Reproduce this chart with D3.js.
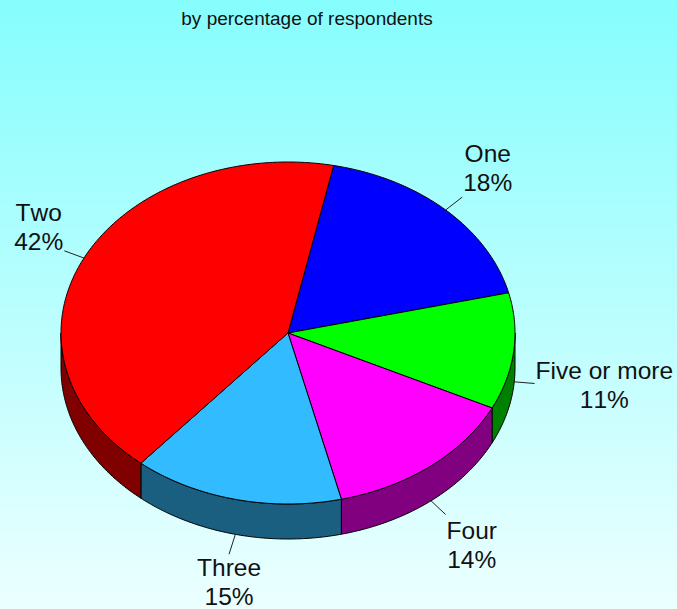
<!DOCTYPE html>
<html><head><meta charset="utf-8">
<script src="https://cdn.jsdelivr.net/npm/d3@7"></script>
<style>html,body{margin:0;padding:0;overflow:hidden;} text{font-kerning:none;}</style>
</head><body>
<script>
const categories = ["One", "Five or more", "Four", "Three", "Two"];
const values = [18, 11, 14, 15, 42];
const labels = ["18%", "11%", "14%", "15%", "42%"];
const topColors = ["#0000ff", "#00ff00", "#ff00ff", "#33bbff", "#ff0000"];
const sideColors = ["#000080", "#008000", "#800080", "#1a5e80", "#800000"];
const title = "by percentage of respondents";

const W = 677, H = 609;
const cx = 288, cy = 333, rx = 227, ry = 171, depth = 35;
const start = 11.6 * Math.PI / 180;
const font = "'Liberation Sans', Arial, sans-serif";

const svg = d3.select("body").append("svg").attr("width", W).attr("height", H);
const defs = svg.append("defs");
const grad = defs.append("linearGradient").attr("id", "bg").attr("x1", 0).attr("y1", 0).attr("x2", 0).attr("y2", 1);
grad.append("stop").attr("offset", "0%").attr("stop-color", "#86fdfd");
grad.append("stop").attr("offset", "100%").attr("stop-color", "#ecffff");
svg.append("rect").attr("width", W).attr("height", H).attr("fill", "url(#bg)");

svg.append("text").attr("x", 307).attr("y", 25).attr("text-anchor", "middle")
  .attr("font-family", font).attr("font-size", 19).attr("fill", "#111").text(title);

const pie = d3.pie().sort(null).startAngle(start).endAngle(start + 2 * Math.PI);
const arcs = pie(values);

const px = a => cx + rx * Math.sin(a);
const py = (a, dy = 0) => cy - ry * Math.cos(a) + dy;
function arcPts(a0, a1, dy) {
  const n = Math.max(2, Math.ceil(Math.abs(a1 - a0) / 0.01));
  const pts = [];
  for (let i = 0; i <= n; i++) { const a = a0 + (a1 - a0) * i / n; pts.push([px(a), py(a, dy)]); }
  return pts;
}
const line = d3.line();

// side walls (visible lower half)
const gSide = svg.append("g");
arcs.forEach((d, i) => {
  [0, 2 * Math.PI].forEach(off => {
    const lo = Math.max(d.startAngle, Math.PI / 2 + off);
    const hi = Math.min(d.endAngle, 3 * Math.PI / 2 + off);
    if (hi > lo) {
      const top = arcPts(lo, hi, 0);
      const bot = arcPts(hi, lo, depth);
      gSide.append("path").attr("d", line(top.concat(bot)) + "Z")
        .attr("fill", sideColors[i]).attr("stroke", "#000").attr("stroke-width", 1).attr("stroke-linejoin", "round");
    }
  });
});

// top faces
const gTop = svg.append("g");
arcs.forEach((d, i) => {
  const pts = [[cx, cy]].concat(arcPts(d.startAngle, d.endAngle, 0));
  gTop.append("path").attr("d", line(pts) + "Z")
    .attr("fill", topColors[i]).attr("stroke", "#000").attr("stroke-width", 1).attr("stroke-linejoin", "round");
});

// leaders + labels
const gLab = svg.append("g");
arcs.forEach((d, i) => {
  const m = (d.startAngle + d.endAngle) / 2;
  const ddx = rx * Math.sin(m), ddy = -ry * Math.cos(m);
  const len = Math.hypot(ddx, ddy);
  const ux = ddx / len, uy = ddy / len;
  const c = Math.cos(m);
  const sx = px(m), sy = py(m, c < 0 ? depth * (0.85 + 0.15 * Math.abs(c)) : 0);
  const ex = sx + ux * 21, ey = sy + uy * 21;
  gLab.append("line").attr("x1", sx).attr("y1", sy).attr("x2", ex).attr("y2", ey)
    .attr("stroke", "#222").attr("stroke-width", 1);
  const t = gLab.append("text").attr("font-family", font).attr("font-size", 24.5)
    .attr("fill", "#111").attr("text-anchor", "middle");
  const t1 = t.append("tspan").text(categories[i]);
  const t2 = t.append("tspan").text(labels[i]);
  const w = Math.max(t1.node().getComputedTextLength(), t2.node().getComputedTextLength());
  const side = Math.abs(ux) > 0.32;
  const ox = side ? Math.sign(ux) * (w / 2 + 1) : 0;
  let oy;
  if (!side) oy = Math.sign(uy) * 28;
  else if (Math.abs(uy) > 0.32) oy = Math.sign(uy) * Math.min(30, 18 + 18 * Math.abs(uy));
  else oy = uy * 10;
  const bx = ex + ox, by = ey + oy;
  t1.attr("x", bx).attr("y", by - 14.5 + 8.7);
  t2.attr("x", bx).attr("y", by + 14.5 + 8.7);
});
</script>
</body></html>
